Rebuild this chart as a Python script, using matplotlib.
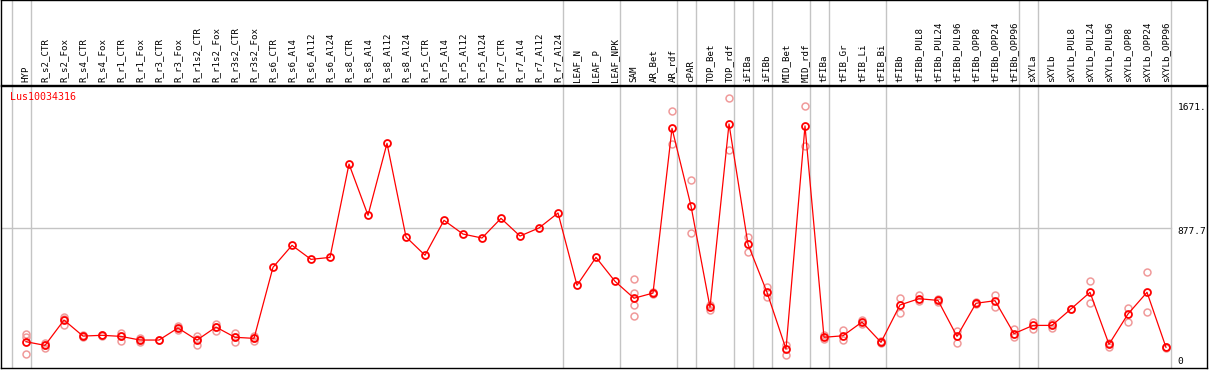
import matplotlib
matplotlib.use("Agg")
import matplotlib.pyplot as plt

labels = ["HYP", "R_s2_CTR", "R_s2_Fox", "R_s4_CTR", "R_s4_Fox", "R_r1_CTR", "R_r1_Fox",
          "R_r3_CTR", "R_r3_Fox", "R_r1s2_CTR", "R_r1s2_Fox", "R_r3s2_CTR", "R_r3s2_Fox",
          "R_s6_CTR", "R_s6_Al4", "R_s6_Al12", "R_s6_Al24", "R_s8_CTR", "R_s8_Al4",
          "R_s8_Al12", "R_s8_Al24", "R_r5_CTR", "R_r5_Al4", "R_r5_Al12", "R_r5_Al24",
          "R_r7_CTR", "R_r7_Al4", "R_r7_Al12", "R_r7_Al24", "LEAF_N", "LEAF_P", "LEAF_NPK",
          "SAM", "AR_Bet", "AR_rdf", "cPAR", "TOP_Bet", "TOP_rdf", "iFIBa", "iFIBb",
          "MID_Bet", "MID_rdf", "tFIBa", "tFIB_Gr", "tFIB_Li", "tFIB_Bi", "tFIBb",
          "tFIBb_PUL8", "tFIBb_PUL24", "tFIBb_PUL96", "tFIBb_OPP8", "tFIBb_OPP24",
          "tFIBb_OPP96", "sXYLa", "sXYLb", "sXYLb_PUL8", "sXYLb_PUL24", "sXYLb_PUL96",
          "sXYLb_OPP8", "sXYLb_OPP24", "sXYLb_OPP96"]

means = [133, 109, 275, 170, 175, 168, 144, 144, 223, 144, 229, 162, 155,
         621, 765, 673, 686, 1298, 962, 1434, 820, 700, 929, 839, 813,
         942, 826, 879, 977, 503, 686, 529,
         418, 452, 1532, 1023, 359, 1561, 772, 457, 85, 1548, 162, 172, 262, 129,
         374, 415, 404, 168, 385, 402, 186, 240, 240, 348, 457, 116, 315, 457, 96]

reps = [[184, 50, 165], [127, 90, 110], [297, 243, 285], [178, 162], [170, 180],
        [192, 140, 172], [160, 130, 144], [144], [238, 212], [170, 109, 150],
        [251, 205, 232], [190, 133, 162], [168, 140, 157],
        [], [], [], [], [], [], [], [], [], [], [], [], [], [], [], [], [], [], [],
        [542, 454, 374, 300], [458, 446], [1644, 1428], [1193, 844], [375, 340],
        [1731, 1390], [820, 723], [492, 424], [111, 46], [1679, 1416], [180, 150],
        [210, 144], [275, 250], [135, 125], [418, 319], [440, 400], [415, 395],
        [205, 127], [392, 380], [439, 363], [214, 162], [260, 215], [255, 222],
        [348], [533, 385], [125, 100], [352, 264], [588, 326], [100, 92]]

# last sample index of each group (vertical separators)
group_ends = [-1, 0, 28, 31, 34, 35, 37, 38, 39, 41, 42, 45, 52, 53, 60]

axis_vals = [0, 877.7, 1671]
axis_text = ["0", "877.7", "1671."]

W, H = 1209, 370
fig = plt.figure(figsize=(W / 100, H / 100), dpi=100)

x0, dx = 26, 19
xlim = ((1 - x0) / dx, (1207 - x0) / dx)
y0, k = 362, 0.1525
ylim = ((y0 - 368) / k, (y0 - 86) / k)

ax = fig.add_axes([1 / W, (H - 368) / H, 1206 / W, 282 / H])
hd = fig.add_axes([1 / W, (H - 85) / H, 1206 / W, 85 / H])

for a in (ax, hd):
    a.set_xlim(*xlim)
    a.set_xticks([])
    a.set_yticks([])
    for s in a.spines.values():
        s.set_color("black")
        s.set_linewidth(1.0)
    for g in group_ends:
        a.axvline(g + 0.25, color="#c4c4c4", lw=1, zorder=0)

ax.set_ylim(*ylim)
hd.set_ylim(0, 1)

xs = list(range(len(labels)))
ax.plot([xlim[0], 60.25], [877.7, 877.7], color="#c4c4c4", lw=1, zorder=0)

for i, r in enumerate(reps):
    if r:
        ax.plot([i] * len(r), r, "o", ms=5, mfc="none", mec="#f09a9a", mew=1.1, zorder=2)
ax.plot(xs, means, "-", color="red", lw=0.9, zorder=3)
ax.plot(xs, means, "o", ms=5, mfc="none", mec="red", mew=1.3, zorder=4)

for i, lab in enumerate(labels):
    hd.text(i, 0.03, lab, rotation=90, ha="center", va="bottom",
            family="DejaVu Sans Mono", fontsize=6.6)

for v, t in zip(axis_vals, axis_text):
    off = -25 if t == "877.7" else 0
    ax.text(60.6, v + off, t, ha="left", va="center",
            family="DejaVu Sans Mono", fontsize=6.8)

ax.text(9 / 1206, (368 - 97) / 282, "Lus10034316", transform=ax.transAxes,
        color="red", ha="left", va="center", family="DejaVu Sans Mono", fontsize=7.2)

fig.savefig("out.png", dpi=100)
